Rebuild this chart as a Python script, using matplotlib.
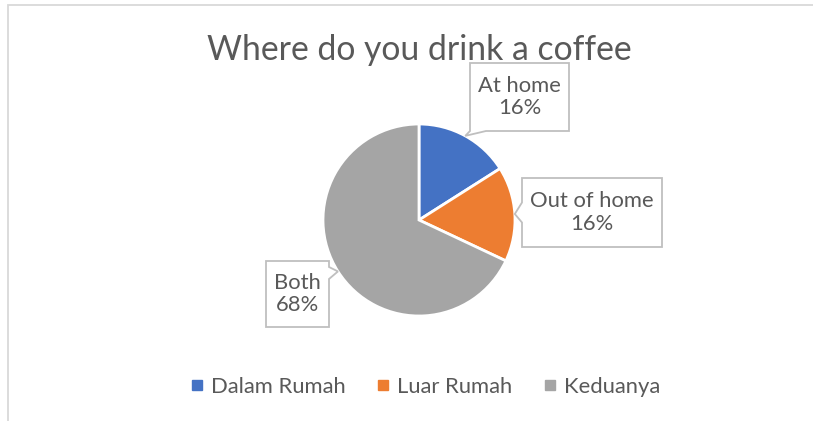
import numpy as np
import matplotlib.pyplot as plt
from matplotlib.patches import Polygon, Rectangle

title = "Where do you drink a coffee"
categories = ["Dalam Rumah", "Luar Rumah", "Keduanya"]
callout_names = ["At home", "Out of home", "Both"]
shares = [16, 16, 68]
colors = ["#4472C4", "#ED7D31", "#A5A5A5"]

W, H = 813, 421
fig = plt.figure(figsize=(W / 100, H / 100), dpi=100)
ax = fig.add_axes([0, 0, 1, 1])

FONT = "Lato"
TXT = "#595959"
EDGE = "#BFBFBF"

# pie
cx, cy, r = 419, 201, 96
wedges, _ = ax.pie(shares, colors=colors, startangle=90, counterclock=False,
                   center=(cx, cy), radius=r, frame=True,
                   wedgeprops=dict(edgecolor="white", linewidth=2))
ax.set_xlim(0, W)
ax.set_ylim(0, H)
ax.set_aspect("equal")
ax.axis("off")

# chart area frame (runs past the right and bottom edges)
ax.add_patch(Rectangle((7.5, -10), W + 20, H - 4.5 + 10, fill=False,
                       edgecolor="#D9D9D9", linewidth=1.3))

ax.text(419, H - 50, title, ha="center", va="center", fontsize=24.3,
        color=TXT, family=FONT)

# callout boxes: (x0, x1, y_top, y_bottom) in pixel rows from top, pointer side
boxes = [(470, 569, 63, 131, "bottom"),
         (522, 662, 178, 247, "left"),
         (266, 329, 261, 327, "right")]

total = sum(shares)
cum = np.cumsum([0] + shares[:-1])
for i, (x0, x1, yt, yb, side) in enumerate(boxes):
    frac = (cum[i] + shares[i] / 2) / total
    ang = np.deg2rad(90 - 360 * frac)
    tip = (cx + r * np.cos(ang), cy + r * np.sin(ang))
    top, bot = H - yt, H - yb
    if side == "bottom":
        pts = [(x0, top), (x1, top), (x1, bot), (x0 + 16, bot), tip, (x0, bot)]
    elif side == "left":
        ym = (top + bot) / 2
        pts = [(x0, top), (x1, top), (x1, bot), (x0, bot), (x0, ym - 10),
               tip, (x0, ym + 10)]
    else:
        pts = [(x0, top), (x1, top), (x1, top - 6), tip, (x1, top - 18),
               (x1, bot), (x0, bot)]
    ax.add_patch(Polygon(pts, closed=True, facecolor="white", edgecolor=EDGE,
                         linewidth=1.3, zorder=5))
    pct = round(100 * shares[i] / total)
    ax.text((x0 + x1) / 2, (top + bot) / 2, f"{callout_names[i]}\n{pct}%",
            ha="center", va="center", fontsize=15.8, color=TXT, family=FONT,
            linespacing=1.15, zorder=6)

# legend
handles = [plt.Line2D([], [], marker="s", linestyle="none", markersize=7,
                      markerfacecolor=c, markeredgecolor=c) for c in colors]
leg = ax.legend(handles, categories, loc="center",
                bbox_to_anchor=(424 / W, 1 - 387 / H),
                ncol=3, frameon=False, handletextpad=0.25, columnspacing=1.3,
                handlelength=0.8,
                prop={"family": FONT, "size": 15.8})
for t in leg.get_texts():
    t.set_color(TXT)

fig.savefig("out.png", dpi=100)
